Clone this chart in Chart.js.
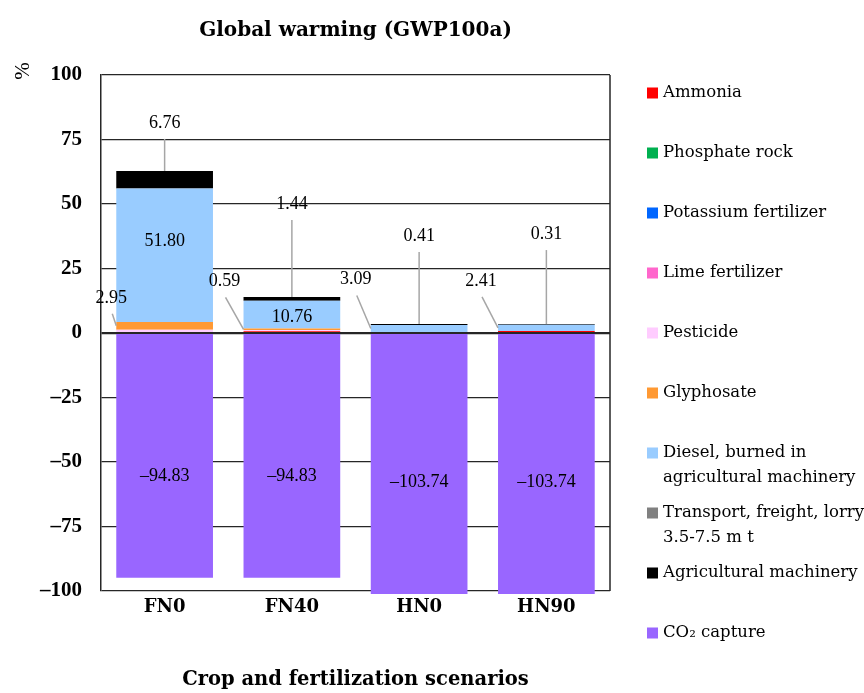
<!DOCTYPE html>
<html>
<head>
<meta charset="utf-8">
<script src="https://cdn.jsdelivr.net/npm/chart.js"></script>
<style>
  html, body { margin: 0; padding: 0; background: #fff; }
  #wrap { width: 864px; height: 693px; }
</style>
</head>
<body>
<div id="wrap"><canvas id="gwp" width="864" height="693"></canvas></div>
<script>
// categorias e valores (% do total)
const scenarios = ['FN0', 'FN40', 'HN0', 'HN90'];

const ammonia     = [0, 0.70, 0, 0.75];
const phosphate   = [0, 0, 0, 0];
const potassium   = [0, 0, 0, 0];
const lime        = [0, 0, 0, 0];
const pesticide   = [1.30, 0.45, 0, 0];
const glyphosate  = [2.95, 0.59, 0, 0];
const diesel      = [51.80, 10.76, 3.09, 2.41];
const transport   = [0, 0, 0, 0];
const machinery   = [6.76, 1.44, 0.41, 0.31];
const co2Capture  = [-94.83, -94.83, -103.74, -103.74];

const yTicks = [-100, -75, -50, -25, 0, 25, 50, 75, 100];

const seriesNames = ['Ammonia', 'Phosphate rock', 'Potassium fertilizer', 'Lime fertilizer', 'Pesticide',
  'Glyphosate', 'Diesel, burned in\nagricultural machinery', 'Transport, freight, lorry\n3.5-7.5 m t',
  'Agricultural machinery', 'CO\u2082 capture'];
const seriesColors = ['#ff0000', '#00b050', '#0066ff', '#ff66cc', '#ffccff',
  '#ff9933', '#99ccff', '#808080', '#000000', '#9966ff'];
const seriesData = [ammonia, phosphate, potassium, lime, pesticide, glyphosate, diesel, transport, machinery, co2Capture];

const TXT = '"DejaVu Serif", serif';
const NUM = '"Liberation Serif", serif';
const fmt = v => (v < 0 ? '\u2013' : '') + Math.abs(v).toFixed(2);

// rótulos com linha de chamada: série, cenário, ponto de ancoragem, deslocamento
const leaderLabels = [
  { ds: 8, cat: 0, at: 'top',  dx: 0,   dy: -48 },
  { ds: 8, cat: 1, at: 'top',  dx: 0,   dy: -93 },
  { ds: 8, cat: 2, at: 'top',  dx: 0,   dy: -88 },
  { ds: 8, cat: 3, at: 'top',  dx: 0,   dy: -90 },
  { ds: 5, cat: 0, at: 'left', dx: -5,  dy: -28 },
  { ds: 5, cat: 1, at: 'left', dx: -19, dy: -48 },
  { ds: 6, cat: 2, at: 'left', dx: -15, dy: -49 },
  { ds: 6, cat: 3, at: 'left', dx: -17, dy: -47 }
];
// rótulos dentro das barras
const innerLabels = [
  { ds: 6, cat: 0, dy: -14 },
  { ds: 6, cat: 1, dy: 3 },
  { ds: 9, cat: 0, dy: 20 },
  { ds: 9, cat: 1, dy: 20 },
  { ds: 9, cat: 2, dy: 20 },
  { ds: 9, cat: 3, dy: 20 }
];

const extras = {
  id: 'extras',
  beforeDatasetsDraw(chart) {
    const { ctx, chartArea: a } = chart;
    ctx.save();
    ctx.strokeStyle = '#262626';
    ctx.lineWidth = 1.5;
    ctx.beginPath();
    ctx.moveTo(a.right, a.top);
    ctx.lineTo(a.right, a.bottom);
    ctx.stroke();
    ctx.restore();
  },
  afterDatasetsDraw(chart) {
    const { ctx, chartArea: a } = chart;
    ctx.save();
    ctx.textAlign = 'center';
    ctx.textBaseline = 'middle';
    ctx.font = '18px ' + NUM;
    ctx.fillStyle = '#000';

    leaderLabels.forEach(l => {
      const bar = chart.getDatasetMeta(l.ds).data[l.cat];
      let ax, ay;
      if (l.at === 'top') {
        ax = bar.x; ay = bar.y;
      } else {
        ax = bar.x - bar.width / 2; ay = (bar.y + bar.base) / 2;
      }
      const lx = ax + l.dx, ly = ay + l.dy;
      ctx.strokeStyle = '#a6a6a6';
      ctx.lineWidth = 1.5;
      ctx.beginPath();
      ctx.moveTo(l.at === 'top' ? ax : lx + 1, ly + 16);
      ctx.lineTo(ax, ay);
      ctx.stroke();
      ctx.fillText(fmt(seriesData[l.ds][l.cat]), lx, ly);
    });

    innerLabels.forEach(l => {
      const bar = chart.getDatasetMeta(l.ds).data[l.cat];
      const top = Math.max(Math.min(bar.y, bar.base), a.top);
      const bottom = Math.min(Math.max(bar.y, bar.base), a.bottom);
      ctx.fillText(fmt(seriesData[l.ds][l.cat]), bar.x, (top + bottom) / 2 + l.dy);
    });

    // % (título do eixo y)
    ctx.save();
    ctx.translate(a.left - 78, a.top - 4);
    ctx.rotate(-Math.PI / 2);
    ctx.font = '21px ' + NUM;
    ctx.fillText('%', 0, 0);
    ctx.restore();

    // legenda
    ctx.textAlign = 'left';
    ctx.font = '16.5px ' + TXT;
    seriesNames.forEach((name, i) => {
      const y = a.top + 18 + i * 60;
      ctx.fillStyle = seriesColors[i];
      ctx.fillRect(a.right + 37, y - 5.5, 11, 11);
      ctx.fillStyle = '#000';
      name.split('\n').forEach((line, k) => ctx.fillText(line, a.right + 53, y + k * 25));
    });
    ctx.restore();
  }
};

new Chart(document.getElementById('gwp'), {
  type: 'bar',
  data: {
    labels: scenarios,
    datasets: seriesNames.map((name, i) => ({
      label: name,
      data: seriesData[i],
      backgroundColor: seriesColors[i],
      borderWidth: 0,
      categoryPercentage: 1,
      barPercentage: 0.76,
      clip: i === 9 ? { left: 0, top: 0, right: 0, bottom: 3 } : 0
    }))
  },
  options: {
    responsive: false,
    animation: false,
    layout: { padding: { left: 0, right: 254, top: 0, bottom: 0 } },
    plugins: {
      legend: { display: false },
      tooltip: { enabled: false },
      title: {
        display: true,
        fullSize: false,
        text: 'Global warming (GWP100a)',
        color: '#000',
        font: { family: TXT, size: 20, weight: 'bold' },
        padding: { top: 19, bottom: 32 }
      }
    },
    scales: {
      x: {
        stacked: true,
        grid: { display: false, drawTicks: false },
        border: { display: false },
        ticks: { color: '#000', padding: 6, font: { family: TXT, size: 18, weight: 'bold' } },
        title: {
          display: true,
          text: 'Crop and fertilization scenarios',
          color: '#000',
          font: { family: TXT, size: 19.5, weight: 'bold' },
          padding: { top: 0, bottom: 1 }
        },
        afterFit(s) { s.height = 102; }
      },
      y: {
        stacked: true,
        min: yTicks[0],
        max: yTicks[yTicks.length - 1],
        afterBuildTicks(s) { s.ticks = yTicks.map(v => ({ value: v })); },
        grid: {
          color: '#262626',
          drawTicks: false,
          lineWidth: c => (c.tick && c.tick.value === 0 ? 2.2 : 1.3)
        },
        border: { display: true, color: '#262626', width: 1.5 },
        ticks: {
          color: '#000',
          padding: 19,
          font: { family: NUM, size: 21, weight: 'bold' },
          callback: v => (v < 0 ? '\u2013' + Math.abs(v) : String(v))
        },
        afterFit(s) { s.width = 101; }
      }
    }
  },
  plugins: [extras]
});
</script>
</body>
</html>
